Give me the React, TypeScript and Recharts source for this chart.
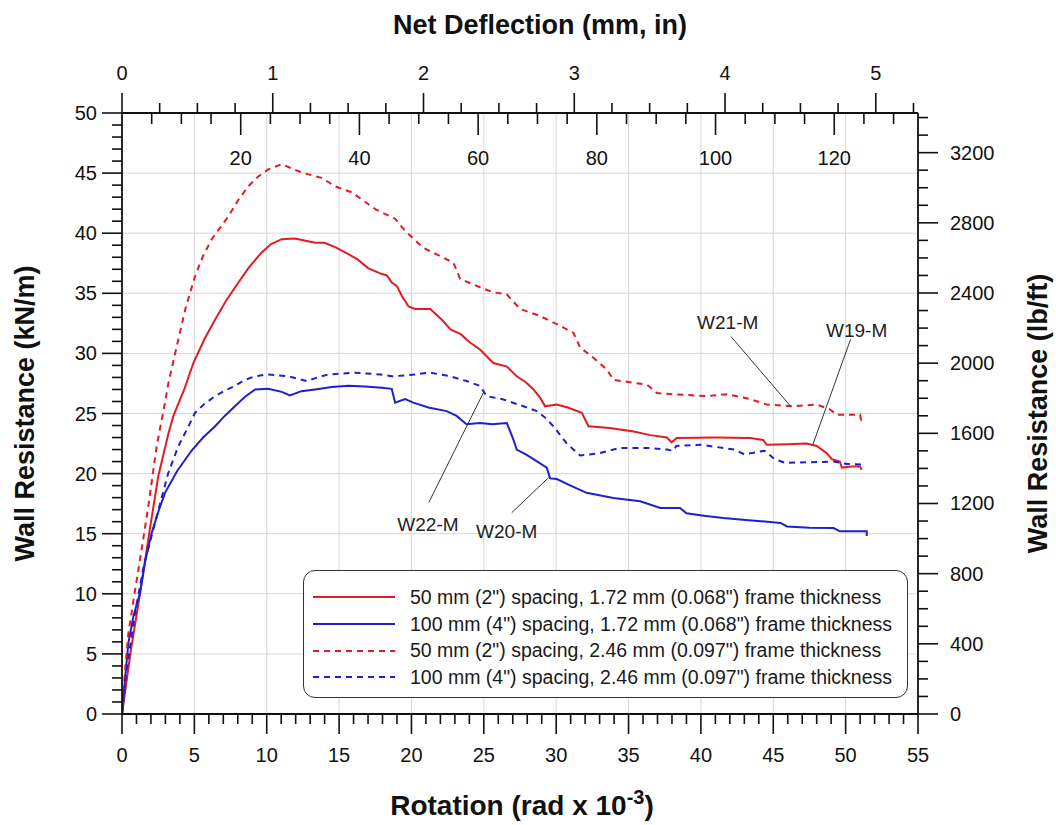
import React from 'react';
import {
  LineChart,
  Line,
  XAxis,
  YAxis,
  CartesianGrid,
  ReferenceLine,
  ReferenceDot,
  Legend,
} from 'recharts';

const FONT = '"Liberation Sans", Arial, Helvetica, sans-serif';
const RED = '#e31b23';
const BLUE = '#1f1fcf';
const INK = '#111111';

// ---- data (rotation rad x 10^-3, wall resistance kN/m) ----
const w19: [number, number][] = [
  [0, 0], [0.3, 2.6], [0.6, 5.2], [1.25, 10.05], [1.9, 15.2], [2.51, 19.8], [3.2, 23.3], [3.55, 24.8],
  [4.3, 27.0], [4.93, 29.2], [5.7, 31.2], [6.43, 32.8], [7.2, 34.4], [8.04, 35.9], [8.8, 37.2], [9.65, 38.4],
  [10.3, 39.1], [11.04, 39.5], [11.96, 39.55], [12.6, 39.4], [13.34, 39.2], [14.0, 39.2], [14.8, 38.8],
  [15.64, 38.25], [16.3, 37.8], [17.0, 37.1], [17.95, 36.6], [18.3, 36.5], [18.64, 35.9], [19.0, 35.6],
  [19.33, 34.8], [19.8, 33.9], [20.25, 33.7], [21.3, 33.7], [22.1, 32.8], [22.7, 32.0], [23.4, 31.6],
  [24.05, 30.9], [24.74, 30.33], [25.66, 29.2], [26.6, 28.9], [27.27, 28.1], [27.9, 27.6], [28.43, 27.0],
  [28.9, 26.3], [29.24, 25.6], [30.04, 25.75], [30.8, 25.5], [31.77, 25.06], [32.23, 23.94], [33.7, 23.8],
  [35.35, 23.5], [36.5, 23.2], [37.65, 23.0], [37.98, 22.6], [38.33, 22.97], [41.0, 23.0], [43.4, 22.97],
  [44.3, 22.8], [44.55, 22.4], [46.0, 22.45], [47.3, 22.5], [48.0, 22.3], [48.7, 21.7], [49.05, 21.2],
  [49.6, 21.0], [49.74, 20.5], [50.4, 20.6], [51.0, 20.6], [51.1, 20.3],
];

const w20: [number, number][] = [
  [0, 0], [0.1, 1.5], [0.44, 5.9], [0.8, 8.2], [1.24, 10.05], [1.6, 12.7], [2.05, 15.05], [2.5, 16.8],
  [2.97, 18.4], [3.8, 20.2], [4.8, 21.9], [5.6, 23.0], [6.4, 23.9], [7.1, 24.8], [7.8, 25.6], [8.5, 26.4],
  [9.2, 27.0], [10.1, 27.05], [11.04, 26.8], [11.6, 26.5], [12.4, 26.86], [13.34, 27.0], [14.5, 27.2],
  [15.64, 27.3], [16.8, 27.25], [17.95, 27.14], [18.64, 27.05], [18.87, 25.9], [19.56, 26.2], [20.13, 25.9],
  [21.17, 25.5], [22.43, 25.2], [23.12, 24.8], [23.8, 24.1], [24.74, 24.2], [25.6, 24.1], [26.59, 24.2],
  [27.05, 22.8], [27.27, 22.0], [27.9, 21.6], [28.43, 21.2], [29.35, 20.5], [29.58, 19.6], [30.04, 19.55],
  [31.0, 19.0], [32.1, 18.4], [33.95, 17.97], [35.8, 17.7], [37.2, 17.14], [38.56, 17.14], [39.0, 16.7],
  [40.2, 16.5], [41.55, 16.3], [43.5, 16.1], [45.5, 15.9], [45.95, 15.6], [47.5, 15.5], [49.16, 15.47],
  [49.6, 15.2], [51.46, 15.2], [51.46, 14.8],
];

const w21: [number, number][] = [
  [0, 0], [0.2, 3.5], [0.44, 6.7], [0.8, 9.5], [1.13, 12.0], [1.5, 14.8], [1.82, 17.3], [2.4, 22.3],
  [2.97, 25.9], [3.2, 27.5], [3.9, 31.2], [4.4, 33.8], [5.04, 36.4], [5.6, 38.1], [6.2, 39.5], [6.8, 40.5],
  [7.35, 41.4], [8.0, 42.7], [8.73, 43.9], [9.4, 44.7], [10.1, 45.3], [11.04, 45.75], [11.7, 45.4],
  [12.4, 45.05], [13.8, 44.6], [14.72, 43.9], [15.87, 43.4], [16.7, 42.7], [17.5, 42.0], [18.87, 41.2],
  [19.56, 40.2], [20.8, 38.8], [21.8, 38.2], [22.9, 37.55], [23.36, 36.2], [24.74, 35.5], [25.6, 35.1],
  [26.6, 34.9], [27.5, 33.7], [28.9, 33.1], [30.27, 32.3], [31.2, 31.7], [31.65, 30.5], [32.57, 29.64],
  [33.5, 28.67], [33.95, 27.8], [35.35, 27.56], [36.27, 27.4], [36.96, 26.7], [38.1, 26.6], [40.4, 26.45],
  [41.8, 26.6], [43.4, 26.2], [44.55, 25.75], [46.4, 25.6], [48.0, 25.75], [48.93, 25.33], [49.4, 24.9],
  [51.0, 24.9], [51.1, 24.2],
];

const w22: [number, number][] = [
  [0, 0], [0.3, 3.5], [0.9, 8.4], [1.5, 12.3], [2.28, 15.9], [3.2, 20.06], [3.9, 22.3], [4.58, 23.9],
  [5.04, 25.05], [5.7, 25.8], [6.43, 26.44], [7.1, 26.9], [7.8, 27.3], [8.5, 27.8], [9.2, 28.1], [10.1, 28.25],
  [11.5, 28.1], [12.76, 27.7], [13.5, 28.0], [14.26, 28.25], [16.1, 28.4], [17.83, 28.25], [18.64, 28.1],
  [19.68, 28.17], [21.28, 28.4], [22.67, 28.1], [23.8, 27.7], [24.74, 27.3], [25.2, 26.44], [26.35, 26.17],
  [27.74, 25.6], [28.66, 25.2], [29.3, 24.6], [29.8, 23.94], [30.7, 22.55], [31.65, 21.5], [33.0, 21.7],
  [34.4, 22.14], [36.27, 22.14], [37.65, 22.0], [38.1, 21.9], [38.3, 22.3], [40.0, 22.4], [42.3, 22.0],
  [43.0, 21.6], [44.4, 21.9], [45.1, 21.2], [45.8, 20.9], [47.3, 20.94], [49.16, 21.0], [50.1, 20.8],
  [51.0, 20.75], [51.1, 20.3],
];

const series = [
  { id: 'W19-M', name: '50 mm (2") spacing, 1.72 mm (0.068") frame thickness', color: RED, dash: undefined as string | undefined, data: w19 },
  { id: 'W20-M', name: '100 mm (4") spacing, 1.72 mm (0.068") frame thickness', color: BLUE, dash: undefined as string | undefined, data: w20 },
  { id: 'W21-M', name: '50 mm (2") spacing, 2.46 mm (0.097") frame thickness', color: RED, dash: '6 5', data: w21 },
  { id: 'W22-M', name: '100 mm (4") spacing, 2.46 mm (0.097") frame thickness', color: BLUE, dash: '6 5', data: w22 },
];

const annotations = [
  { label: 'W21-M', tx: 41.85, ty: 32.55, from: [42.08, 31.4], to: [46.2, 25.6] },
  { label: 'W19-M', tx: 50.76, ty: 31.9, from: [50.34, 31.17], to: [47.73, 22.4] },
  { label: 'W22-M', tx: 21.14, ty: 15.75, from: [21.2, 17.6], to: [25.0, 26.8] },
  { label: 'W20-M', tx: 26.58, ty: 15.2, from: [26.93, 16.75], to: [29.48, 19.67] },
];

// ---- axes ----
const ROT_MAX = 55;
const KN_MAX = 50;
const KN_TO_LBFT = 68.5218;
const WALL_HEIGHT_MM = 2438.4;
const LB_MAX = KN_MAX * KN_TO_LBFT;
const MM_MAX = (ROT_MAX / 1000) * WALL_HEIGHT_MM;
const IN_MAX = MM_MAX / 25.4;

const range = (a: number, b: number, s: number) => {
  const out: number[] = [];
  for (let i = 0; a + i * s <= b + 1e-9; i++) out.push(Math.round((a + i * s) * 1000) / 1000);
  return out;
};

const rotLabels = [0, 5, 10, 15, 20, 25, 30, 35, 40, 45, 50, 55];
const knLabels = [0, 5, 10, 15, 20, 25, 30, 35, 40, 45, 50];
const lbLabels = [0, 400, 800, 1200, 1600, 2000, 2400, 2800, 3200];
const inLabels = [0, 1, 2, 3, 4, 5];
const mmLabels = [20, 40, 60, 80, 100, 120];

const rotTicks = range(0, 55, 1);
const knTicks = range(0, 50, 1);
const lbTicks = range(0, 3400, 100);
const inTicks = range(0, 5.25, 0.25);
const mmTicks = range(5, 130, 5);

// top axis is in inches; mm ticks are placed on it too (mm / 25.4)
type TopMeta = { value: number; kind: 'in' | 'mm'; raw: number };
const topMeta: TopMeta[] = [
  ...inTicks.map((v) => ({ value: v, kind: 'in' as const, raw: v })),
  ...mmTicks.map((v) => ({ value: v / 25.4, kind: 'mm' as const, raw: v })),
].sort((a, b) => a.value - b.value);
const topTicks = topMeta.map((m) => m.value);

// chart-level rows for the deflection axis (inches)
const deflectionRows = inLabels.map((v) => ({ inch: v }));

const gridX = [5, 10, 15, 20, 25, 30, 35, 40, 45, 50];
const gridY = [5, 10, 15, 20, 25, 30, 35, 40, 45];

const TICK_FS = 20;
const TITLE_FS = 27;

const txt = { fontFamily: FONT, fill: INK } as const;

const BottomTick = (p: any) => {
  const v = p.payload.value;
  const major = rotLabels.includes(v);
  return (
    <g>
      <line x1={p.x} y1={p.y} x2={p.x} y2={p.y + (major ? 20 : 10)} stroke={INK} strokeWidth={1.6} />
      {major && (
        <text x={p.x} y={p.y + 48} textAnchor="middle" fontSize={TICK_FS} {...txt}>{v}</text>
      )}
    </g>
  );
};

const LeftTick = (p: any) => {
  const v = p.payload.value;
  const major = knLabels.includes(v);
  return (
    <g>
      <line x1={p.x - (major ? 20 : 10)} y1={p.y} x2={p.x} y2={p.y} stroke={INK} strokeWidth={1.6} />
      {major && (
        <text x={p.x - 25} y={p.y + 7} textAnchor="end" fontSize={TICK_FS} {...txt}>{v}</text>
      )}
    </g>
  );
};

const RightTick = (p: any) => {
  const v = p.payload.value;
  const major = lbLabels.includes(v);
  return (
    <g>
      <line x1={p.x} y1={p.y} x2={p.x + (major ? 20 : 10)} y2={p.y} stroke={INK} strokeWidth={1.6} />
      {major && (
        <text x={p.x + 32} y={p.y + 7} textAnchor="start" fontSize={TICK_FS} {...txt}>{v}</text>
      )}
    </g>
  );
};

const TopTick = (p: any) => {
  const v = p.payload.value;
  const meta = topMeta.find((m) => Math.abs(m.value - v) < 1e-6);
  if (!meta) return <g />;
  if (meta.kind === 'in') {
    const major = inLabels.includes(meta.raw);
    return (
      <g>
        <line x1={p.x} y1={p.y - (major ? 20 : 10)} x2={p.x} y2={p.y} stroke={INK} strokeWidth={1.6} />
        {major && (
          <text x={p.x} y={p.y - 33} textAnchor="middle" fontSize={TICK_FS} {...txt}>{meta.raw}</text>
        )}
      </g>
    );
  }
  const major = mmLabels.includes(meta.raw);
  return (
    <g>
      <line x1={p.x} y1={p.y} x2={p.x} y2={p.y + (major ? 22 : 11)} stroke={INK} strokeWidth={1.6} />
      {major && (
        <text x={p.x} y={p.y + 52} textAnchor="middle" fontSize={TICK_FS} {...txt}>{meta.raw}</text>
      )}
    </g>
  );
};

const BottomTitle = (p: any) => {
  const vb = p.viewBox;
  return (
    <text x={vb.x + vb.width / 2 + 2} y={vb.y + 101} textAnchor="middle" fontSize={28} fontWeight="bold" {...txt}>
      Rotation (rad x 10
      <tspan dy={-11} fontSize={20}>-3</tspan>
      <tspan dy={11}>)</tspan>
    </text>
  );
};

const TopTitle = (p: any) => {
  const vb = p.viewBox;
  return (
    <text x={vb.x + vb.width / 2 + 20} y={34} textAnchor="middle" fontSize={TITLE_FS} fontWeight="bold" {...txt}>
      Net Deflection (mm, in)
    </text>
  );
};

const LeftTitle = (p: any) => {
  const vb = p.viewBox;
  const cx = vb.x + 34;
  const cy = vb.y + vb.height / 2;
  return (
    <text x={cx} y={cy} transform={`rotate(-90 ${cx} ${cy})`} textAnchor="middle" fontSize={TITLE_FS} fontWeight="bold" {...txt}>
      Wall Resistance (kN/m)
    </text>
  );
};

const RightTitle = (p: any) => {
  const vb = p.viewBox;
  const cx = vb.x + 129;
  const cy = vb.y + vb.height / 2;
  return (
    <text x={cx} y={cy} transform={`rotate(-90 ${cx} ${cy})`} textAnchor="middle" fontSize={TITLE_FS} fontWeight="bold" {...txt}>
      Wall Resistance (lb/ft)
    </text>
  );
};

const LegendBox = () => (
  <div
    style={{
      boxSizing: 'border-box',
      width: 605,
      height: 128,
      border: '1.5px solid #333',
      borderRadius: 12,
      background: '#ffffff',
      paddingTop: 13,
      fontFamily: FONT,
      fontSize: 19.5,
      color: '#1a1a1a',
    }}
  >
    {series.map((s) => (
      <div key={s.id} style={{ display: 'flex', alignItems: 'center', height: 26.7 }}>
        <svg width={82} height={6} style={{ marginLeft: 9, flex: 'none' }}>
          <line x1={0} y1={3} x2={82} y2={3} stroke={s.color} strokeWidth={2} strokeDasharray={s.dash} />
        </svg>
        <span style={{ marginLeft: 15, whiteSpace: 'nowrap' }}>{s.name}</span>
      </div>
    ))}
  </div>
);

const axisLine = { stroke: INK, strokeWidth: 1.8 };

export default function App() {
  return (
    <div style={{ position: 'absolute', left: 0, top: 0, width: 1056, height: 825, background: '#fff', fontFamily: FONT }}>
      <LineChart width={1056} height={825} data={deflectionRows} margin={{ top: 0, right: 0, bottom: 0, left: 0 }}>
        <CartesianGrid
          xAxisId="rot"
          yAxisId="kn"
          stroke="#d7d7d7"
          strokeWidth={1}
          verticalValues={gridX}
          horizontalValues={gridY}
        />
        <XAxis
          xAxisId="rot"
          dataKey="x"
          type="number"
          orientation="bottom"
          domain={[0, ROT_MAX]}
          ticks={rotTicks}
          interval={0}
          height={111}
          tickSize={0}
          tickMargin={0}
          tickLine={false}
          axisLine={axisLine}
          tick={BottomTick}
          allowDataOverflow
          label={{ content: BottomTitle }}
        />
        <XAxis
          xAxisId="in"
          dataKey="inch"
          type="number"
          orientation="top"
          domain={[0, IN_MAX]}
          ticks={topTicks}
          interval={0}
          height={113}
          tickSize={0}
          tickMargin={0}
          tickLine={false}
          axisLine={axisLine}
          tick={TopTick}
          allowDataOverflow
          label={{ content: TopTitle }}
        />
        <YAxis
          yAxisId="kn"
          type="number"
          orientation="left"
          domain={[0, KN_MAX]}
          ticks={knTicks}
          interval={0}
          width={122}
          tickSize={0}
          tickMargin={0}
          tickLine={false}
          axisLine={axisLine}
          tick={LeftTick}
          allowDataOverflow
          label={{ content: LeftTitle }}
        />
        <YAxis
          yAxisId="lb"
          type="number"
          orientation="right"
          domain={[0, LB_MAX]}
          ticks={lbTicks}
          interval={0}
          width={138}
          tickSize={0}
          tickMargin={0}
          tickLine={false}
          axisLine={axisLine}
          tick={RightTick}
          allowDataOverflow
          label={{ content: RightTitle }}
        />
        {series.map((s) => (
          <Line
            key={s.id}
            xAxisId="rot"
            yAxisId="kn"
            data={s.data.map(([x, y]) => ({ x, y }))}
            dataKey="y"
            name={s.name}
            type="linear"
            stroke={s.color}
            strokeWidth={2}
            strokeDasharray={s.dash}
            dot={false}
            activeDot={false}
            isAnimationActive={false}
          />
        ))}
        {annotations.map((a) => (
          <ReferenceLine
            key={`l-${a.label}`}
            xAxisId="rot"
            yAxisId="kn"
            segment={[{ x: a.from[0], y: a.from[1] }, { x: a.to[0], y: a.to[1] }]}
            stroke="#333"
            strokeWidth={1}
            ifOverflow="visible"
          />
        ))}
        {annotations.map((a) => (
          <ReferenceDot
            key={`t-${a.label}`}
            xAxisId="rot"
            yAxisId="kn"
            x={a.tx}
            y={a.ty}
            r={0}
            fillOpacity={0}
            strokeOpacity={0}
            ifOverflow="visible"
            label={{ value: a.label, position: 'center', fontSize: 19, fontFamily: FONT, fill: '#222' }}
          />
        ))}
        <Legend
          layout="vertical"
          align="center"
          verticalAlign="middle"
          wrapperStyle={{ position: 'absolute', left: 303, top: 570, width: 605, height: 128 }}
          content={() => <LegendBox />}
        />
      </LineChart>
    </div>
  );
}
